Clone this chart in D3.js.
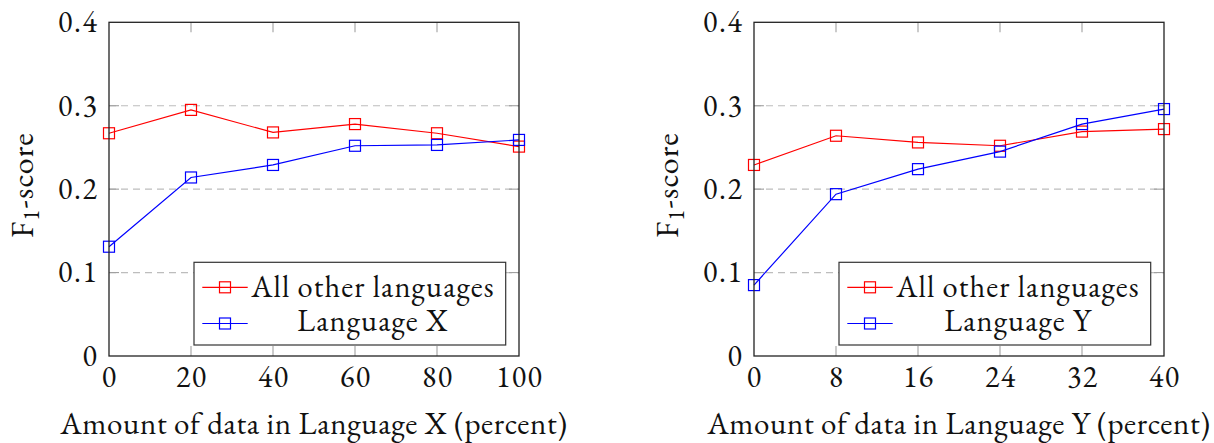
<!DOCTYPE html>
<html>
<head>
<meta charset="utf-8">
<script src="https://cdn.jsdelivr.net/npm/d3@7"></script>
<style>
  html, body { margin: 0; padding: 0; background: #fff; }
  svg { display: block; }
</style>
</head>
<body>
<svg id="chart" width="1214" height="443"></svg>
<script>
// F1-score versus amount of target-language data, two experiments
const yTicks = [0, 0.1, 0.2, 0.3, 0.4];

const xValuesX = [0, 20, 40, 60, 80, 100];
const otherLangsX = [0.267, 0.295, 0.268, 0.278, 0.267, 0.251];
const languageX = [0.131, 0.214, 0.229, 0.252, 0.253, 0.259];

const xValuesY = [0, 8, 16, 24, 32, 40];
const otherLangsY = [0.229, 0.264, 0.256, 0.252, 0.269, 0.272];
const languageY = [0.085, 0.194, 0.224, 0.245, 0.278, 0.296];

const seriesNames = ["All other languages"];
const panelTitles = ["Language X", "Language Y"];
const xLabels = ["Amount of data in Language X (percent)", "Amount of data in Language Y (percent)"];

const RED = "#ff0000", BLUE = "#0000ff";
const FONT = "'EB Garamond', 'Liberation Serif', serif";
const svg = d3.select("#chart").attr("font-family", FONT);

function drawPanel(offsetX, xVals, redVals, blueVals, langName, xLabel) {
  const plot = { left: 109, right: 519, top: 22.3, bottom: 356 };
  const g = svg.append("g").attr("transform", `translate(${offsetX},0)`);

  const x = d3.scaleLinear().domain([xVals[0], xVals[xVals.length - 1]]).range([plot.left, plot.right]);
  const y = d3.scaleLinear().domain([0, 0.4]).range([plot.bottom, plot.top]);

  // dashed horizontal grid
  g.append("g").selectAll("line")
    .data(yTicks.filter(t => t > 0 && t < 0.4))
    .join("line")
    .attr("x1", plot.left).attr("x2", plot.right)
    .attr("y1", d => y(d)).attr("y2", d => y(d))
    .attr("stroke", "#bdbdbd").attr("stroke-width", 1.1)
    .attr("stroke-dasharray", "7,5");

  // inward tick marks on all four sides
  const tickLen = 10;
  const innerX = xVals.slice(1, -1);
  const innerY = yTicks.slice(1, -1);
  const ticks = g.append("g").attr("stroke", "#a0a0a0").attr("stroke-width", 1.1);
  ticks.selectAll(".tb").data(innerX).join("line")
    .attr("x1", d => x(d)).attr("x2", d => x(d))
    .attr("y1", plot.bottom).attr("y2", plot.bottom - tickLen);
  ticks.selectAll(".tt").data(innerX).join("line")
    .attr("x1", d => x(d)).attr("x2", d => x(d))
    .attr("y1", plot.top).attr("y2", plot.top + tickLen);
  ticks.selectAll(".tl").data(innerY).join("line")
    .attr("y1", d => y(d)).attr("y2", d => y(d))
    .attr("x1", plot.left).attr("x2", plot.left + tickLen);
  ticks.selectAll(".tr").data(innerY).join("line")
    .attr("y1", d => y(d)).attr("y2", d => y(d))
    .attr("x1", plot.right).attr("x2", plot.right - tickLen);

  // series
  const line = d3.line().x(d => x(d[0])).y(d => y(d[1]));
  const series = [
    { vals: redVals, color: RED },
    { vals: blueVals, color: BLUE }
  ];
  const mk = 11;
  series.forEach(s => {
    const pts = xVals.map((v, i) => [v, s.vals[i]]);
    g.append("path").datum(pts)
      .attr("d", line).attr("fill", "none")
      .attr("stroke", s.color).attr("stroke-width", 1.2);
    g.append("g").selectAll("rect").data(pts).join("rect")
      .attr("x", d => x(d[0]) - mk / 2).attr("y", d => y(d[1]) - mk / 2)
      .attr("width", mk).attr("height", mk)
      .attr("fill", "none").attr("stroke", s.color).attr("stroke-width", 1.2);
  });

  // frame
  g.append("rect")
    .attr("x", plot.left).attr("y", plot.top)
    .attr("width", plot.right - plot.left).attr("height", plot.bottom - plot.top)
    .attr("fill", "none").attr("stroke", "#222").attr("stroke-width", 1.3);

  // tick labels
  g.append("g").selectAll("text").data(xVals).join("text")
    .attr("x", d => x(d) + 0.7).attr("y", 387)
    .attr("text-anchor", "middle").attr("font-size", 30)
    .attr("letter-spacing", 1.4).attr("fill", "#111")
    .text(d => d);
  g.append("g").selectAll("text").data(yTicks).join("text")
    .attr("x", plot.left - 10.5).attr("y", d => y(d) + 9.8)
    .attr("text-anchor", "end").attr("font-size", 30)
    .attr("letter-spacing", 1.6).attr("fill", "#111")
    .text(d => d === 0 ? "0" : d3.format(".1f")(d));

  // axis titles
  g.append("text")
    .attr("x", (plot.left + plot.right) / 2).attr("y", 434)
    .attr("text-anchor", "middle").attr("font-size", 31)
    .attr("letter-spacing", 0.6).attr("fill", "#111")
    .text(xLabel);
  const yl = g.append("text")
    .attr("transform", `translate(33,${(plot.top + plot.bottom) / 2 - 4}) rotate(-90)`)
    .attr("text-anchor", "middle").attr("font-size", 32)
    .attr("letter-spacing", 1).attr("fill", "#111");
  yl.append("tspan").text("F");
  yl.append("tspan").attr("font-size", 23).attr("dy", 6).text("1");
  yl.append("tspan").attr("dy", -6).text("-score");

  // legend
  const lg = g.append("g");
  lg.append("rect")
    .attr("x", 194).attr("y", 262.3).attr("width", 311.7).attr("height", 82.7)
    .attr("fill", "#fff").attr("stroke", "#333").attr("stroke-width", 1.2);
  const rows = [
    { name: seriesNames[0], color: RED, cy: 287.3, base: 296.5 },
    { name: langName, color: BLUE, cy: 323.5, base: 331 }
  ];
  rows.forEach(r => {
    lg.append("line").attr("x1", 202.3).attr("x2", 247.7)
      .attr("y1", r.cy).attr("y2", r.cy)
      .attr("stroke", r.color).attr("stroke-width", 1.2);
    lg.append("rect").attr("x", 225 - mk / 2).attr("y", r.cy - mk / 2)
      .attr("width", mk).attr("height", mk)
      .attr("fill", "none").attr("stroke", r.color).attr("stroke-width", 1.2);
    lg.append("text").attr("x", 373).attr("y", r.base)
      .attr("text-anchor", "middle").attr("font-size", 30.5)
      .attr("letter-spacing", 1.1).attr("fill", "#111")
      .text(r.name);
  });
}

drawPanel(0, xValuesX, otherLangsX, languageX, panelTitles[0], xLabels[0]);
drawPanel(645, xValuesY, otherLangsY, languageY, panelTitles[1], xLabels[1]);
</script>
</body>
</html>
